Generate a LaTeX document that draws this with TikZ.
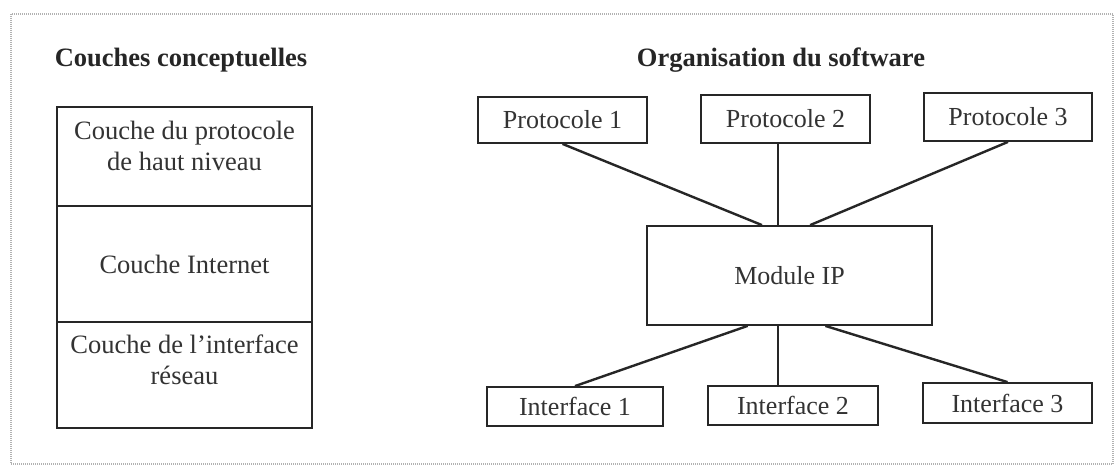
\documentclass[tikz,border=0pt]{standalone}
\usepackage{fontspec}
\setmainfont{Liberation Serif}
\usetikzlibrary{calc}
\begin{document}
\begin{tikzpicture}[x=1pt,y=-1pt,
  box/.style={draw=black!85, line width=1.8pt, inner sep=0pt, text=black!80,
    font=\fontsize{26}{30}\selectfont},
  link/.style={draw=black!85, line width=2.4pt},
  ttl/.style={font=\fontsize{26.5}{30}\selectfont\bfseries, text=black!85},
  lbl/.style={font=\fontsize{26.5}{31}\selectfont, align=center, text=black!80, inner sep=0pt}]
\useasboundingbox (0,0) rectangle (1117,476);
\fill[white] (0,0) rectangle (1117,476);
\draw[gray!60, line width=1.2pt, dash pattern=on 1pt off 1pt] (11,14) rectangle (1113,464);

% titles
\node[ttl] (tl) at (181,60) {Couches conceptuelles};
\node[ttl] (tr) at (781,60) {Organisation du software};

% left stack
\node[box, minimum width=255pt, minimum height=99pt] (l1) at (184.5,156.5) {};
\node[box, minimum width=255pt, minimum height=116pt] (l2) at (184.5,264) {};
\node[box, minimum width=255pt, minimum height=106pt] (l3) at (184.5,375) {};
\node[lbl] (t1) at (184.5,146) {Couche du protocole\\de haut niveau};
\node[lbl] (t2) at (184.5,264) {Couche Internet};
\node[lbl] (t3) at (184.5,360) {Couche de l’interface\\réseau};

% right side
\node[box, minimum width=169pt, minimum height=46pt] (p1) at (562.5,120) {Protocole 1};
\node[box, minimum width=169pt, minimum height=48pt] (p2) at (785.5,119) {Protocole 2};
\node[box, minimum width=168pt, minimum height=48pt] (p3) at (1008,117) {Protocole 3};
\node[box, minimum width=285pt, minimum height=99pt] (m) at (789.5,275.5) {Module IP};
\node[box, minimum width=176pt, minimum height=39pt] (i1) at (575,406.5) {Interface 1};
\node[box, minimum width=170pt, minimum height=39pt] (i2) at (793,405.5) {Interface 2};
\node[box, minimum width=169pt, minimum height=40pt] (i3) at (1007.5,403) {Interface 3};

\coordinate (mt1) at ($(m.north west)!0.404!(m.north east)$);
\coordinate (mt2) at ($(m.north west)!0.46!(m.north east)$);
\coordinate (mt3) at ($(m.north west)!0.572!(m.north east)$);
\coordinate (mb1) at ($(m.south west)!0.354!(m.south east)$);
\coordinate (mb2) at ($(m.south west)!0.46!(m.south east)$);
\coordinate (mb3) at ($(m.south west)!0.625!(m.south east)$);

\draw[link] (p1.south) -- (mt1);
\draw[link] (p2.south -| mt2) -- (mt2);
\draw[link] (p3.south) -- (mt3);
\draw[link] (mb1) -- (i1.north);
\draw[link] (mb2) -- (i2.north -| mb2);
\draw[link] (mb3) -- (i3.north);
\end{tikzpicture}
\end{document}
